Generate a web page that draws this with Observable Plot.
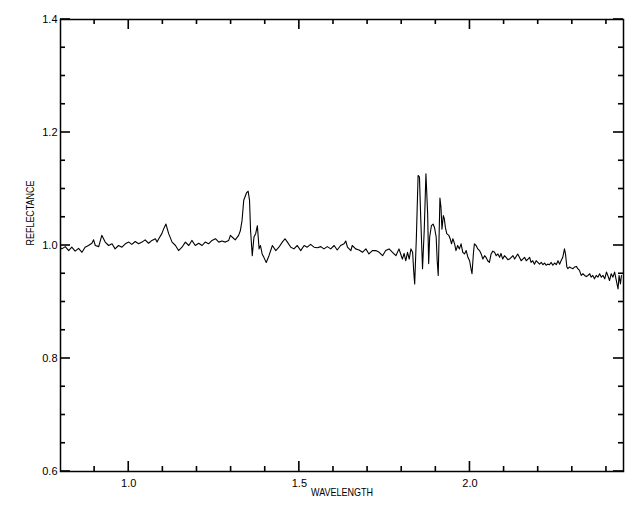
<!DOCTYPE html>
<html>
<head>
<meta charset="utf-8">
<script src="https://cdn.jsdelivr.net/npm/d3@7"></script>
<script src="https://cdn.jsdelivr.net/npm/@observablehq/plot@0.6"></script>
<style>
  html, body { margin: 0; padding: 0; background: #fff; }
  svg { display: block; }
  svg text { font-family: "Liberation Sans", Arial, sans-serif; }
</style>
</head>
<body>
<div id="chart"></div>
<script>
const wavelength = [
  0.800, 0.804, 0.814, 0.824, 0.833, 0.843, 0.853, 0.863, 0.872, 0.882,
  0.892, 0.897, 0.902, 0.912, 0.921, 0.931, 0.941, 0.951, 0.960, 0.970,
  0.980, 0.990, 1.000, 1.009, 1.019, 1.029, 1.039, 1.048, 1.058, 1.068,
  1.078, 1.083, 1.088, 1.097, 1.102, 1.109, 1.117, 1.127, 1.137, 1.146,
  1.156, 1.166, 1.176, 1.185, 1.195, 1.205, 1.215, 1.224, 1.234, 1.244,
  1.254, 1.264, 1.273, 1.283, 1.293, 1.298, 1.303, 1.312, 1.322, 1.327,
  1.332, 1.337, 1.342, 1.345, 1.350, 1.354, 1.357, 1.362, 1.367, 1.372,
  1.377, 1.382, 1.386, 1.391, 1.396, 1.403, 1.411, 1.421, 1.431, 1.440,
  1.450, 1.458, 1.465, 1.475, 1.484, 1.494, 1.504, 1.514, 1.523, 1.533,
  1.543, 1.553, 1.563, 1.572, 1.582, 1.592, 1.602, 1.611, 1.621, 1.631,
  1.636, 1.641, 1.651, 1.655, 1.665, 1.675, 1.685, 1.695, 1.704, 1.714,
  1.724, 1.734, 1.744, 1.753, 1.763, 1.773, 1.783, 1.792, 1.797, 1.802,
  1.807, 1.812, 1.817, 1.822, 1.827, 1.832, 1.835, 1.838, 1.843, 1.848,
  1.852, 1.856, 1.861, 1.866, 1.871, 1.876, 1.879, 1.882, 1.887, 1.892,
  1.896, 1.901, 1.904, 1.907, 1.912, 1.915, 1.918, 1.922, 1.925, 1.928,
  1.932, 1.938, 1.942, 1.946, 1.950, 1.955, 1.959, 1.964, 1.969, 1.974,
  1.979, 1.984, 1.989, 1.994, 1.999, 2.003, 2.006, 2.010, 2.013, 2.018,
  2.023, 2.028, 2.033, 2.038, 2.043, 2.047, 2.052, 2.057, 2.062, 2.067,
  2.072, 2.077, 2.082, 2.087, 2.091, 2.096, 2.101, 2.106, 2.111, 2.116,
  2.121, 2.126, 2.131, 2.140, 2.145, 2.150, 2.155, 2.160, 2.165, 2.170,
  2.175, 2.179, 2.184, 2.189, 2.194, 2.199, 2.204, 2.209, 2.214, 2.219,
  2.223, 2.228, 2.233, 2.238, 2.243, 2.248, 2.253, 2.258, 2.263, 2.267,
  2.272, 2.277, 2.280, 2.284, 2.287, 2.292, 2.297, 2.302, 2.307, 2.312,
  2.316, 2.321, 2.326, 2.331, 2.336, 2.341, 2.346, 2.351, 2.355, 2.360,
  2.365, 2.370, 2.375, 2.380, 2.385, 2.390, 2.395, 2.400, 2.404, 2.409,
  2.414, 2.419, 2.424, 2.429, 2.434, 2.437, 2.441, 2.444
];
const reflectance = [
  0.996, 0.994, 0.998, 0.991, 0.997, 0.990, 0.995, 0.988, 0.997, 1.000,
  1.004, 1.010, 1.000, 0.998, 1.018, 1.006, 1.000, 1.003, 0.994, 1.000,
  0.997, 1.003, 1.006, 1.002, 1.007, 1.003, 1.006, 1.010, 1.004, 1.009,
  1.012, 1.006, 1.012, 1.021, 1.029, 1.038, 1.021, 1.006, 1.000, 0.991,
  0.997, 1.006, 1.000, 1.009, 1.000, 1.004, 1.000, 1.006, 1.003, 1.009,
  1.012, 1.006, 1.008, 1.006, 1.009, 1.018, 1.015, 1.010, 1.018, 1.026,
  1.044, 1.080, 1.088, 1.093, 1.096, 1.080, 1.027, 0.982, 1.015, 1.021,
  1.035, 0.994, 1.000, 0.985, 0.979, 0.970, 0.982, 1.000, 0.991, 0.997,
  1.006, 1.012, 1.006, 0.997, 0.994, 1.000, 0.991, 1.000, 0.997, 1.002,
  0.997, 0.996, 0.998, 0.994, 0.998, 0.994, 1.000, 0.992, 1.000, 1.003,
  1.008, 0.997, 0.991, 1.000, 0.994, 0.992, 0.988, 0.994, 0.985, 0.991,
  0.991, 0.988, 0.982, 0.991, 0.994, 0.988, 0.982, 0.994, 0.985, 0.976,
  0.986, 0.973, 0.988, 0.976, 0.994, 0.988, 0.956, 0.932, 1.015, 1.124,
  1.121, 1.044, 0.959, 1.027, 1.127, 1.056, 0.968, 1.015, 1.035, 1.038,
  1.032, 1.015, 0.973, 0.947, 1.084, 1.068, 1.029, 1.053, 1.047, 1.032,
  1.021, 1.018, 1.012, 1.003, 1.012, 1.003, 0.991, 1.000, 0.994, 1.003,
  0.988, 0.985, 0.991, 0.979, 0.973, 0.959, 0.950, 0.985, 1.003, 1.000,
  0.994, 0.991, 0.985, 0.976, 0.982, 0.979, 0.973, 0.970, 0.985, 0.990,
  0.988, 0.982, 0.985, 0.979, 0.986, 0.976, 0.982, 0.979, 0.975, 0.976,
  0.979, 0.982, 0.976, 0.985, 0.979, 0.973, 0.976, 0.979, 0.973, 0.976,
  0.979, 0.970, 0.973, 0.967, 0.973, 0.970, 0.967, 0.970, 0.966, 0.969,
  0.965, 0.967, 0.966, 0.970, 0.965, 0.969, 0.966, 0.973, 0.967, 0.973,
  0.979, 0.994, 0.985, 0.962, 0.959, 0.962, 0.960, 0.959, 0.962, 0.963,
  0.959, 0.956, 0.947, 0.950, 0.947, 0.945, 0.947, 0.950, 0.944, 0.947,
  0.941, 0.947, 0.944, 0.950, 0.944, 0.947, 0.941, 0.953, 0.947, 0.938,
  0.950, 0.944, 0.953, 0.938, 0.923, 0.947, 0.932, 0.947
];

const xDomain = [0.8, 2.45];
const yDomain = [0.6, 1.4];
const xMajorTicks = [1.0, 1.5, 2.0];
const xTickLabels = ["1.0", "1.5", "2.0"];
const xMinorTicks = [0.9, 1.1, 1.2, 1.3, 1.4, 1.6, 1.7, 1.8, 1.9, 2.1, 2.2, 2.3, 2.4];
const yMajorTicks = [0.6, 0.8, 1.0, 1.2, 1.4];
const yTickLabels = ["0.6", "0.8", "1.0", "1.2", "1.4"];
const yMinorTicks = [0.65, 0.7, 0.75, 0.85, 0.9, 0.95, 1.05, 1.1, 1.15, 1.25, 1.3, 1.35];
const xTitle = "WAVELENGTH";
const yTitle = "REFLECTANCE";

const W = 640, H = 512;
const mL = 60, mR = 17, mT = 19, mB = 41;
const plotW = W - mL - mR, plotH = H - mT - mB;
const majorLen = 10, minorLen = 5;
const tickW = 1.6;

const data = wavelength.map((w, i) => ({w, r: reflectance[i]}));

// tick sizes in pixels converted to data units through the scale spans
const kx = (xDomain[1] - xDomain[0]) / plotW;
const ky = (yDomain[1] - yDomain[0]) / plotH;
const xTickRows = [
  ...xMajorTicks.map(t => ({t, len: majorLen})),
  ...xMinorTicks.map(t => ({t, len: minorLen}))
];
const yTickRows = [
  ...yMajorTicks.map(t => ({t, len: majorLen})),
  ...yMinorTicks.map(t => ({t, len: minorLen}))
];
const hx = tickW / 2 * kx, hy = tickW / 2 * ky;

const chart = Plot.plot({
  width: W,
  height: H,
  marginLeft: mL,
  marginRight: mR,
  marginTop: mT,
  marginBottom: mB,
  x: {domain: xDomain},
  y: {domain: yDomain},
  marks: [
    // inward tick marks drawn as thin filled bars on all four sides
    Plot.rect(xTickRows, {x1: d => d.t - hx, x2: d => d.t + hx, y1: yDomain[0], y2: d => yDomain[0] + d.len * ky, fill: "#000"}),
    Plot.rect(xTickRows, {x1: d => d.t - hx, x2: d => d.t + hx, y1: d => yDomain[1] - d.len * ky, y2: yDomain[1], fill: "#000"}),
    Plot.rect(yTickRows, {y1: d => d.t - hy, y2: d => d.t + hy, x1: xDomain[0], x2: d => xDomain[0] + d.len * kx, fill: "#000"}),
    Plot.rect(yTickRows, {y1: d => d.t - hy, y2: d => d.t + hy, x1: d => xDomain[1] - d.len * kx, x2: xDomain[1], fill: "#000"}),
    Plot.frame({stroke: "#000", strokeWidth: 1.5}),
    Plot.axisX(xMajorTicks, {anchor: "bottom", tickSize: 0, tickPadding: 8, tickFormat: (d, i) => xTickLabels[i], fontSize: 11, fill: "#000", label: null}),
    Plot.axisY(yMajorTicks, {anchor: "left", tickSize: 0, tickPadding: 3, tickFormat: (d, i) => yTickLabels[i], fontSize: 11, fill: "#000", label: null}),
    Plot.line(data, {x: "w", y: "r", stroke: "#000", strokeWidth: 1.1}),
    Plot.text([xTitle], {text: d => d, frameAnchor: "bottom", dy: 24.5, fontSize: 11, fill: "#000", className: "xtitle"}),
    Plot.text([yTitle], {text: d => d, frameAnchor: "left", dx: -30.5, rotate: -90, fontSize: 11, fill: "#000", className: "ytitle"})
  ]
});
// condense the axis titles to the reference's narrow lettering
d3.select(chart).selectAll(".xtitle text").attr("textLength", 62).attr("lengthAdjust", "spacingAndGlyphs");
d3.select(chart).selectAll(".ytitle text").attr("textLength", 65).attr("lengthAdjust", "spacingAndGlyphs");
document.getElementById("chart").appendChild(chart);
</script>
</body>
</html>
